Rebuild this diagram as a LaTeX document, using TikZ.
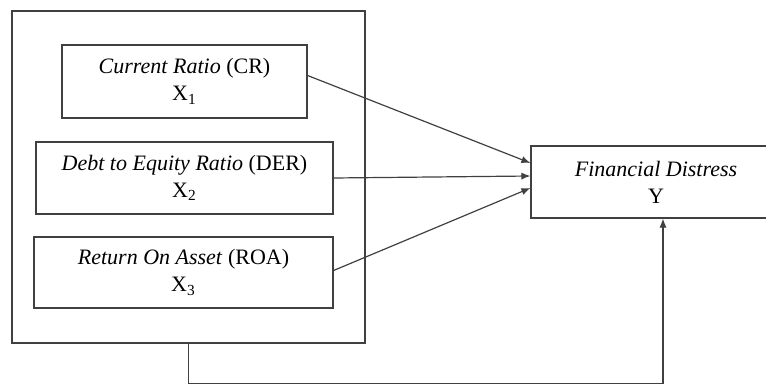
\documentclass[tikz,border=0pt]{standalone}
\usepackage{fontspec}
\setmainfont{Liberation Serif}
\usetikzlibrary{positioning, arrows.meta}

\begin{document}
\begin{tikzpicture}[x=0.5pt, y=-0.5pt,
	box/.style={draw=black!75, line width=0.6pt, align=center, inner sep=0pt, font=\fontsize{11}{13.5}\selectfont},
	link/.style={draw=black!75, line width=0.6pt, -{Latex[length=4.5pt, width=3.6pt]}}]
	\useasboundingbox (0,0) rectangle (766,385);
	\clip (0,0) rectangle (766,385);

	% outer frame and variables
	\node[box, minimum width=353*0.5pt, minimum height=332*0.5pt] (grp) at (188.5,177) {};
	\node[box, minimum width=245*0.5pt, minimum height=73*0.5pt] (cr) at (184.5,81.5) {\textit{Current Ratio} (CR)\\X\textsubscript{1}};
	\node[box, minimum width=297*0.5pt, minimum height=72*0.5pt] (der) at (184.5,178) {\textit{Debt to Equity Ratio} (DER)\\X\textsubscript{2}};
	\node[box, minimum width=299*0.5pt, minimum height=71*0.5pt] (roa) at (183.5,272.5) {\textit{Return On Asset} (ROA)\\X\textsubscript{3}};

	\node[box, minimum width=250*0.5pt, minimum height=72*0.5pt] (fd) at (656,182) {\textit{Financial Distress}\\Y};

	% arrows
	\draw[link] ([yshift=3pt]cr.east) -- ([yshift=9.5pt]fd.west);
	\draw[link] (der.east) -- ([yshift=3pt]fd.west);
	\draw[link] ([yshift=1pt]roa.east) -- ([yshift=-3pt]fd.west);
	\draw[link] (grp.south) -- ++(0,40) -| ([xshift=3.5pt]fd.south);
\end{tikzpicture}
\end{document}
